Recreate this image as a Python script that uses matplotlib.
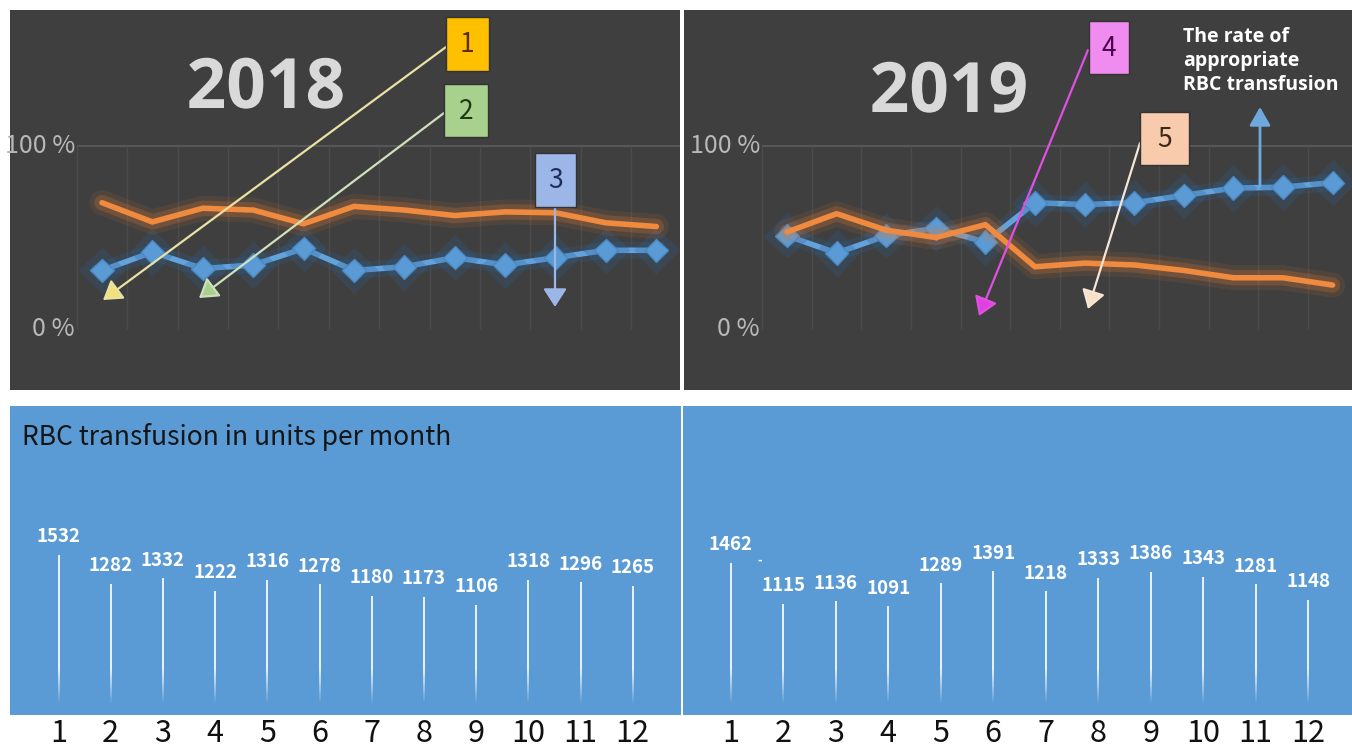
import numpy as np
import matplotlib
matplotlib.use("Agg")
import matplotlib.pyplot as plt
from matplotlib import patheffects as pe
from matplotlib import transforms as mtransforms
from matplotlib.patches import Rectangle, FancyArrowPatch
from matplotlib.collections import LineCollection

plt.rcParams['font.family'] = ['Noto Sans CJK KR', 'DejaVu Sans']

# ---------------- data ----------------
months = list(range(1, 13))
month_labels = [str(m) for m in months]
rate_2018 = [32, 42, 33, 35, 44, 32, 34, 39, 35, 39, 43, 43]
other_2018 = [69, 58.5, 66, 65, 57.5, 67, 65, 62, 64, 63.5, 58, 56]
rate_2019 = [51, 41.5, 51, 55, 47.5, 69, 68, 69, 73, 77, 77.5, 80]
other_2019 = [53, 63, 54, 50, 57, 34, 36, 35, 32, 28, 28, 24]
units_2018 = [1532, 1282, 1332, 1222, 1316, 1278, 1180, 1173, 1106, 1318, 1296, 1265]
units_2019 = [1462, 1115, 1136, 1091, 1289, 1391, 1218, 1333, 1386, 1343, 1281, 1148]
pct_ticks = [0, 100]
pct_labels = ['0 %', '100 %']
years = ['2018', '2019']
bottom_title = 'RBC transfusion in units per month'
rate_text = 'The rate of\nappropriate\nRBC transfusion'

# ---------------- layout helpers ----------------
W, H = 1352, 751
fig = plt.figure(figsize=(W / 100, H / 100), dpi=100, facecolor='white')


def rect(x0, y0, x1, y1):
    return [x0 / W, 1 - y1 / H, (x1 - x0) / W, (y1 - y0) / H]


def F(x, y):
    return (x / W, 1 - y / H)


def clean(ax, fc):
    ax.set_facecolor(fc)
    for s in ax.spines.values():
        s.set_visible(False)
    ax.set_yticks([])


DARK = '#3f3f3f'
BLUE_BG = '#5b9bd5'
ORANGE = '#ef8a3e'
BLUE = '#62a3de'

orange_fx = [pe.Stroke(linewidth=18, foreground='#ed7d31', alpha=0.10),
             pe.Stroke(linewidth=11, foreground='#ed7d31', alpha=0.22),
             pe.Normal()]
blue_fx = [pe.Stroke(linewidth=12, foreground='#2e5f8f', alpha=0.25),
           pe.Normal()]

top_specs = [
    # panel box, first-point x, spacing, series, title position, label right edge
    ((10, 10, 680, 390), 102, 50.4, rate_2018, other_2018, (266, 90), 75),
    ((684, 10, 1352, 390), 787, 49.6, rate_2019, other_2019, (949, 94), 760),
]
y0_px, y100_px = 329, 146
ppp = (y0_px - y100_px) / 100.0

for (box, x1px, dx, rate, other, title_xy, lab_x), yr in zip(top_specs, years):
    ax = fig.add_axes(rect(*box))
    clean(ax, DARK)
    ax.set_xticks([])
    xl = 1 - (x1px - box[0]) / dx
    xr = 1 + (box[2] - x1px) / dx
    ax.set_xlim(xl, xr)
    ax.set_ylim((y0_px - box[3]) / ppp, (y0_px - box[1]) / ppp)
    # grid
    ax.hlines(100, 0.5, xr, color='#5c5c5c', lw=1.2, zorder=1)
    ax.vlines(np.arange(0.5, 12.5, 1.0), 0, 100, color='#4b4b4b', lw=1.0, zorder=1)
    # series
    ax.plot(months, rate, color=BLUE, lw=4, marker='D', ms=12,
            mfc='#5b9bd5', mec='#4a88c4', mew=1, path_effects=blue_fx, zorder=3)
    ax.plot(months, other, color=ORANGE, lw=4, solid_capstyle='round',
            path_effects=orange_fx, zorder=4)
    # y labels
    tr = mtransforms.blended_transform_factory(fig.transFigure, ax.transData)
    for t, lab in zip(pct_ticks, pct_labels):
        ax.text(lab_x / W, t, lab, transform=tr, ha='right', va='center',
                fontsize=18, color='#b8b8b8')
    # year title
    fig.text(*F(*title_xy), yr, ha='center', va='center', fontsize=50,
             fontweight='bold', color='#d9d9d9', family='Open Sans',
             path_effects=[pe.withSimplePatchShadow(offset=(2, -2), alpha=0.35)])

# callout boxes
callouts = [
    ('1', (446, 17, 489, 71), '#ffc000', '#5a3000', (446, 47), (103, 300), '#e8e2a4', '#f5df7a'),
    ('2', (444, 84, 488, 137), '#a9d18e', '#1e3a10', (444, 113), (199, 298), '#cfe0bc', '#a9d18e'),
    ('3', (535, 153, 576, 207), '#9db6e8', '#1f2d5a', (555, 207), (555, 307), '#9db6e8', '#9db6e8'),
    ('4', (1089, 21, 1129, 74), '#f08cf0', '#4b0050', (1088, 50), (979, 316), '#e050e0', '#e040e0'),
    ('5', (1140, 112, 1189, 165), '#f8cbad', '#3a2a1a', (1140, 143), (1088, 309), '#f5e6d8', '#f8e0c8'),
]
for lab, (bx0, by0, bx1, by1), fc, tc, pA, pB, lc, hc in callouts:
    arr = FancyArrowPatch(F(*pA), F(*pB), transform=fig.transFigure,
                          arrowstyle='-|>,head_length=0.7,head_width=0.45',
                          mutation_scale=16, color=lc, lw=1.6, zorder=5,
                          shrinkA=0, shrinkB=0)
    arr.set_facecolor(hc)
    arr.set_edgecolor(lc)
    fig.add_artist(arr)
    r = Rectangle(F(bx0, by1), (bx1 - bx0) / W, (by1 - by0) / H,
                  transform=fig.transFigure, facecolor=fc, edgecolor='#333333',
                  lw=1.0, zorder=6)
    fig.add_artist(r)
    fig.text(*F((bx0 + bx1) / 2, (by0 + by1) / 2 + 1), lab, ha='center', va='center',
             fontsize=19, color=tc, zorder=7)

# rate arrow and text
rate_arr = FancyArrowPatch(F(1260, 186), F(1260, 107), transform=fig.transFigure,
                           arrowstyle='-|>,head_length=0.7,head_width=0.4',
                           mutation_scale=16, color='#6fa8dc', lw=2, zorder=5,
                           shrinkA=0, shrinkB=0)
fig.add_artist(rate_arr)
fig.text(*F(1183, 61), rate_text, ha='left', va='center', fontsize=14,
         fontweight='bold', color='white', family='Open Sans', linespacing=1.3)

# ---------------- bottom panels ----------------
v_ppx = 0.117
v_zero_px = 734
bottom_specs = [
    ((10, 406, 681, 715), 58.5, 52.2, units_2018),
    ((683, 406, 1352, 715), 730.7, 52.5, units_2019),
]
for (box, x1px, dx, units) in bottom_specs:
    ax = fig.add_axes(rect(*box))
    clean(ax, BLUE_BG)
    ax.set_xlim(1 - (x1px - box[0]) / dx, 1 + (box[2] - x1px) / dx)
    ylo = (v_zero_px - box[3]) / v_ppx
    ax.set_ylim(ylo, (v_zero_px - box[1]) / v_ppx)
    ax.set_xticks(months)
    ax.set_xticklabels(month_labels, fontsize=22, color='#111111')
    ax.tick_params(axis='x', length=0, pad=2.5)
    # stems with fading bottom
    for m, v in zip(months, units):
        ys = np.linspace(ylo, v, 60)
        segs = [[(m, ys[i]), (m, ys[i + 1])] for i in range(len(ys) - 1)]
        mid = (ys[:-1] + ys[1:]) / 2
        alpha = np.clip((mid - 260) / 300.0, 0, 1) * 0.95
        cols = [(1, 1, 1, a) for a in alpha]
        ax.add_collection(LineCollection(segs, colors=cols, linewidths=1.3))
        ax.annotate(str(v), (m, v), xytext=(0, 13), textcoords='offset points',
                    ha='center', va='center', fontsize=13.5, fontweight='bold',
                    color='white')

fig.text(*F(22, 437), bottom_title, ha='left', va='center', fontsize=19,
         color='#151515')
fig.text(*F(760, 560), '-', ha='center', va='center', fontsize=9,
         color='white', fontweight='bold')

fig.savefig('out.png', dpi=100, facecolor='white')
